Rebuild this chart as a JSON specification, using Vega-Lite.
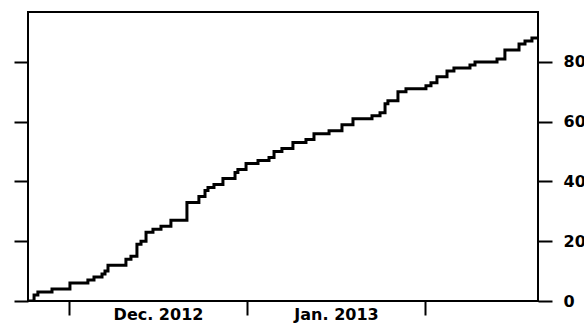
{
  "$schema": "https://vega.github.io/schema/vega-lite/v6.json",
  "width": 510,
  "height": 289,
  "padding": {"left": 13, "top": 12, "right": 5, "bottom": 5},
  "background": "white",
  "config": {
    "view": {"stroke": "black", "strokeWidth": 2},
    "axis": {"grid": false, "domain": false, "tickColor": "black", "tickWidth": 2, "labelFont": "DejaVu Sans", "labelFontWeight": "bold", "labelFontSize": 16, "labelColor": "black", "title": null}
  },
  "data": {
    "values": [
      {"time": "2012-11-23T21:00", "count": 0},
      {"time": "2012-11-24T22:00", "count": 2},
      {"time": "2012-11-25T14:00", "count": 3},
      {"time": "2012-11-28T01:00", "count": 4},
      {"time": "2012-12-01T04:00", "count": 6},
      {"time": "2012-12-04T07:00", "count": 7},
      {"time": "2012-12-05T08:30", "count": 8},
      {"time": "2012-12-06T18:00", "count": 9},
      {"time": "2012-12-07T06:30", "count": 10},
      {"time": "2012-12-07T19:00", "count": 12},
      {"time": "2012-12-10T22:00", "count": 14},
      {"time": "2012-12-11T19:00", "count": 15},
      {"time": "2012-12-12T20:00", "count": 19},
      {"time": "2012-12-13T13:00", "count": 20},
      {"time": "2012-12-14T10:00", "count": 23},
      {"time": "2012-12-15T15:00", "count": 24},
      {"time": "2012-12-17T00:30", "count": 25},
      {"time": "2012-12-18T18:00", "count": 27},
      {"time": "2012-12-21T13:00", "count": 33},
      {"time": "2012-12-23T15:00", "count": 35},
      {"time": "2012-12-24T16:30", "count": 37},
      {"time": "2012-12-25T05:00", "count": 38},
      {"time": "2012-12-26T06:00", "count": 39},
      {"time": "2012-12-27T19:30", "count": 41},
      {"time": "2012-12-29T22:00", "count": 43},
      {"time": "2012-12-30T10:00", "count": 44},
      {"time": "2012-12-31T20:00", "count": 46},
      {"time": "2013-01-02T22:00", "count": 47},
      {"time": "2013-01-04T20:00", "count": 48},
      {"time": "2013-01-05T17:00", "count": 50},
      {"time": "2013-01-07T02:00", "count": 51},
      {"time": "2013-01-09T00:00", "count": 53},
      {"time": "2013-01-11T06:30", "count": 54},
      {"time": "2013-01-12T16:00", "count": 56},
      {"time": "2013-01-15T07:00", "count": 57},
      {"time": "2013-01-17T13:00", "count": 59},
      {"time": "2013-01-19T11:00", "count": 61},
      {"time": "2013-01-22T18:30", "count": 62},
      {"time": "2013-01-24T04:00", "count": 63},
      {"time": "2013-01-25T01:00", "count": 66},
      {"time": "2013-01-25T13:00", "count": 67},
      {"time": "2013-01-27T07:00", "count": 70},
      {"time": "2013-01-28T16:30", "count": 71},
      {"time": "2013-02-01T04:00", "count": 72},
      {"time": "2013-02-02T01:00", "count": 73},
      {"time": "2013-02-03T02:00", "count": 75},
      {"time": "2013-02-04T20:00", "count": 77},
      {"time": "2013-02-06T01:00", "count": 78},
      {"time": "2013-02-08T20:00", "count": 79},
      {"time": "2013-02-09T17:00", "count": 80},
      {"time": "2013-02-13T13:00", "count": 81},
      {"time": "2013-02-14T22:00", "count": 84},
      {"time": "2013-02-17T09:00", "count": 86},
      {"time": "2013-02-18T10:00", "count": 87},
      {"time": "2013-02-19T15:00", "count": 88},
      {"time": "2013-02-20T16:00", "count": 88}
    ]
  },
  "layer": [
    {
      "mark": {"type": "line", "interpolate": "step-after", "color": "black", "strokeWidth": 3, "strokeJoin": "miter", "clip": true},
      "encoding": {
        "x": {
          "field": "time", "type": "temporal",
          "scale": {"domain": [{"year": 2012, "month": 11, "date": 23, "hours": 20, "minutes": 40}, {"year": 2013, "month": 2, "date": 20, "hours": 16, "minutes": 20}], "nice": false},
          "axis": {"orient": "bottom", "labels": false, "tickSize": 14, "values": [{"year": 2012, "month": 12, "date": 1}, {"year": 2013, "month": 1, "date": 1}, {"year": 2013, "month": 2, "date": 1}]}
        },
        "y": {
          "field": "count", "type": "quantitative",
          "scale": {"domain": [0, 96.7], "nice": false, "zero": false},
          "axis": {"orient": "left", "labels": false, "tickSize": 14, "values": [0, 20, 40, 60, 80]}
        }
      }
    },
    {
      "mark": {"type": "line", "opacity": 0},
      "encoding": {
        "x": {
          "field": "time", "type": "temporal",
          "axis": {"orient": "bottom", "ticks": false, "tickSize": 0, "labelPadding": 5, "format": "%b. %Y", "values": [{"year": 2012, "month": 12, "date": 16, "hours": 12}, {"year": 2013, "month": 1, "date": 16, "hours": 12}]}
        },
        "y": {
          "field": "count", "type": "quantitative",
          "axis": {"orient": "right", "tickSize": 14, "labelPadding": 11, "values": [0, 20, 40, 60, 80]}
        }
      }
    }
  ],
  "resolve": {"axis": {"x": "independent", "y": "independent"}}
}
